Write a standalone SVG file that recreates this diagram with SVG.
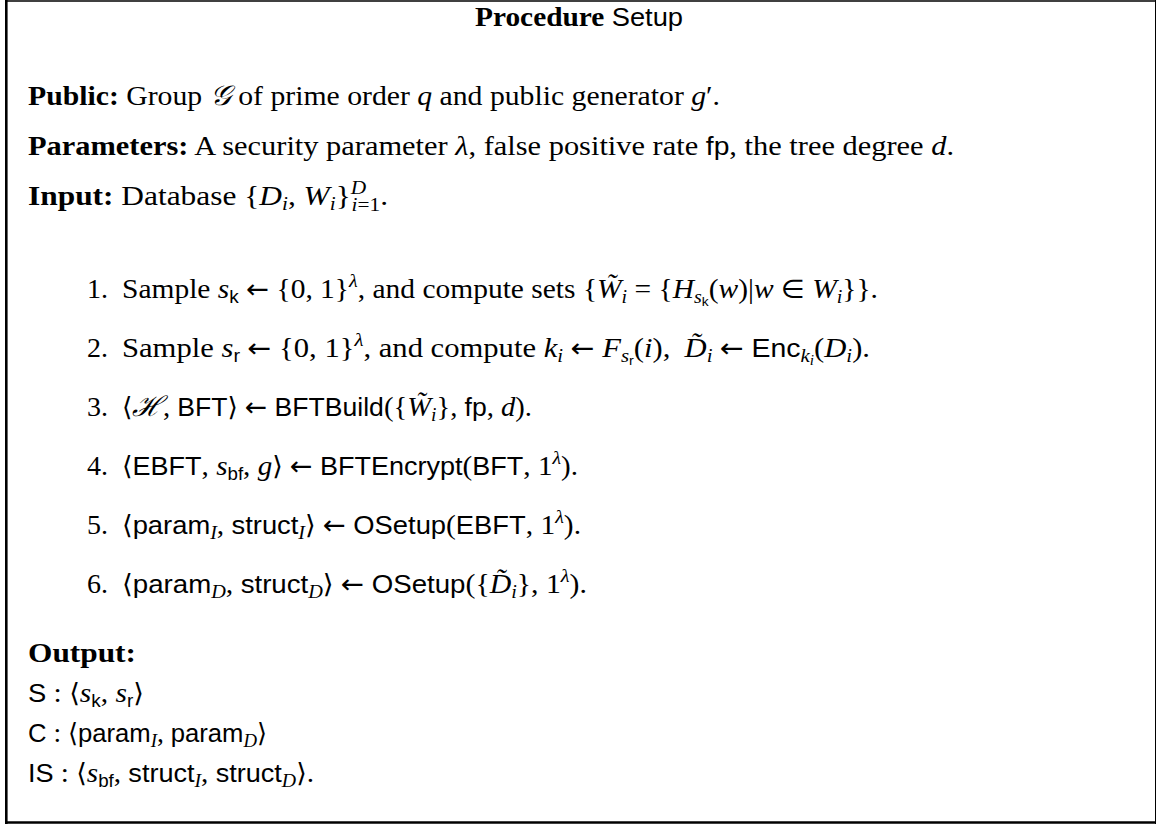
<svg xmlns="http://www.w3.org/2000/svg" width="1156" height="825" viewBox="0 0 1156 825">
<style>
text{font-family:'Liberation Serif','DejaVu Serif',serif;font-size:28px;fill:#000}
.b{font-weight:bold}
.i{font-style:italic}
.s{font-family:'Liberation Sans','DejaVu Sans',sans-serif;font-size:26px}
.sub{font-size:19px}
.s.sub{font-size:18px}
.sub2{font-size:14px}
.s.sub2{font-size:13px}
.sym{font-family:'DejaVu Sans',sans-serif;font-size:26px;font-style:normal}
.cal{font-family:'DejaVu Serif','Liberation Serif',serif;font-style:italic}
.frame{fill:none;stroke:#000}
</style>
<rect width="1156" height="825" fill="#fff"/>
<g id="frame">
<line class="frame" x1="6" y1="1" x2="1156" y2="1" stroke-width="1.5"/>
<line class="frame" x1="6.3" y1="0" x2="6.3" y2="824" stroke-width="2.6"/>
<line class="frame" x1="5" y1="822.5" x2="1156" y2="822.5" stroke-width="2.6"/>
<line class="frame" x1="1155.5" y1="0" x2="1155.5" y2="824" stroke-width="1"/>
</g>
<g id="title">
<text x="475" y="26" textLength="208" lengthAdjust="spacingAndGlyphs"><tspan class="b">Procedure</tspan> <tspan class="s">Setup</tspan></text>
</g>
<g id="header">
<text x="28" y="105" textLength="692" lengthAdjust="spacingAndGlyphs"><tspan class="b">Public:</tspan> Group <tspan class="cal">𝒢</tspan> of prime order <tspan class="i">q</tspan> and public generator <tspan class="i">g</tspan>′.</text>
<text x="28" y="155" textLength="926" lengthAdjust="spacingAndGlyphs"><tspan class="b">Parameters:</tspan> A security parameter <tspan class="i">λ</tspan>, false positive rate <tspan class="s">fp</tspan>, the tree degree <tspan class="i">d</tspan>.</text>
<text x="28" y="205" textLength="360" lengthAdjust="spacingAndGlyphs"><tspan class="b">Input:</tspan> Database {<tspan class="i">D</tspan><tspan class="i sub" dy="5">i</tspan><tspan dy="-5">, </tspan><tspan class="i">W</tspan><tspan class="i sub" dy="5">i</tspan><tspan dy="-5">}</tspan><tspan class="i sub" dy="-11">D</tspan><tspan class="sub" dx="-13" dy="17"><tspan class="i">i</tspan>=1</tspan><tspan dy="-6">.</tspan></text>
</g>
<g id="steps">
<g id="step1">
<text x="108" y="298" text-anchor="end">1.</text>
<text x="122" y="298" textLength="756" lengthAdjust="spacingAndGlyphs">Sample <tspan class="i">s</tspan><tspan class="s sub" dy="5">k</tspan><tspan dy="-5"> <tspan class="sym">←</tspan> {0, 1}</tspan><tspan class="i sub" dy="-11">λ</tspan><tspan dy="11">, and compute sets {</tspan><tspan class="i">W̃</tspan><tspan class="i sub" dy="5">i</tspan><tspan dy="-5"> = {</tspan><tspan class="i">H</tspan><tspan class="i sub" dy="5">s</tspan><tspan class="s sub2" dy="3">k</tspan><tspan dy="-8">(</tspan><tspan class="i">w</tspan>)|<tspan class="i">w</tspan> <tspan class="sym">∈</tspan> <tspan class="i">W</tspan><tspan class="i sub" dy="5">i</tspan><tspan dy="-5">}}.</tspan></text>
</g>
<g id="step2">
<text x="108" y="357" text-anchor="end">2.</text>
<text x="122" y="357" textLength="748" lengthAdjust="spacingAndGlyphs">Sample <tspan class="i">s</tspan><tspan class="s sub" dy="5">r</tspan><tspan dy="-5"> <tspan class="sym">←</tspan> {0, 1}</tspan><tspan class="i sub" dy="-11">λ</tspan><tspan dy="11">, and compute </tspan><tspan class="i">k</tspan><tspan class="i sub" dy="5">i</tspan><tspan dy="-5"> <tspan class="sym">←</tspan> </tspan><tspan class="i">F</tspan><tspan class="i sub" dy="5">s</tspan><tspan class="s sub2" dy="3">r</tspan><tspan dy="-8">(</tspan><tspan class="i">i</tspan>), <tspan class="i" dx="6">D̃</tspan><tspan class="i sub" dy="5">i</tspan><tspan dy="-5"> <tspan class="sym">←</tspan> </tspan><tspan class="s">Enc</tspan><tspan class="i sub" dy="5">k</tspan><tspan class="i sub2" dy="3">i</tspan><tspan dy="-8">(</tspan><tspan class="i">D</tspan><tspan class="i sub" dy="5">i</tspan><tspan dy="-5">).</tspan></text>
</g>
<g id="step3">
<text x="108" y="416" text-anchor="end">3.</text>
<text x="122" y="416" textLength="410" lengthAdjust="spacingAndGlyphs"><tspan class="sym">⟨</tspan><tspan class="cal">ℋ</tspan>, <tspan class="s">BFT</tspan><tspan class="sym">⟩</tspan> <tspan class="sym">←</tspan> <tspan class="s">BFTBuild</tspan>({<tspan class="i">W̃</tspan><tspan class="i sub" dy="5">i</tspan><tspan dy="-5">}, </tspan><tspan class="s">fp</tspan>, <tspan class="i">d</tspan>).</text>
</g>
<g id="step4">
<text x="108" y="475" text-anchor="end">4.</text>
<text x="122" y="475" textLength="456" lengthAdjust="spacingAndGlyphs"><tspan class="sym">⟨</tspan><tspan class="s">EBFT</tspan>, <tspan class="i">s</tspan><tspan class="s sub" dy="5">bf</tspan><tspan dy="-5">, </tspan><tspan class="i">g</tspan><tspan class="sym">⟩</tspan> <tspan class="sym">←</tspan> <tspan class="s">BFTEncrypt</tspan>(<tspan class="s">BFT</tspan>, 1<tspan class="i sub" dy="-11">λ</tspan><tspan dy="11">).</tspan></text>
</g>
<g id="step5">
<text x="108" y="534" text-anchor="end">5.</text>
<text x="122" y="534" textLength="459" lengthAdjust="spacingAndGlyphs"><tspan class="sym">⟨</tspan><tspan class="s">param</tspan><tspan class="i sub" dy="5">I</tspan><tspan dy="-5">, </tspan><tspan class="s">struct</tspan><tspan class="i sub" dy="5">I</tspan><tspan dy="-5" class="sym">⟩</tspan> <tspan class="sym">←</tspan> <tspan class="s">OSetup</tspan>(<tspan class="s">EBFT</tspan>, 1<tspan class="i sub" dy="-11">λ</tspan><tspan dy="11">).</tspan></text>
</g>
<g id="step6">
<text x="108" y="593" text-anchor="end">6.</text>
<text x="122" y="593" textLength="465" lengthAdjust="spacingAndGlyphs"><tspan class="sym">⟨</tspan><tspan class="s">param</tspan><tspan class="i sub" dy="5">D</tspan><tspan dy="-5">, </tspan><tspan class="s">struct</tspan><tspan class="i sub" dy="5">D</tspan><tspan dy="-5" class="sym">⟩</tspan> <tspan class="sym">←</tspan> <tspan class="s">OSetup</tspan>({<tspan class="i">D̃</tspan><tspan class="i sub" dy="5">i</tspan><tspan dy="-5">}, 1</tspan><tspan class="i sub" dy="-11">λ</tspan><tspan dy="11">).</tspan></text>
</g>
</g>
<g id="output">
<text x="28" y="662" class="b" textLength="108" lengthAdjust="spacingAndGlyphs">Output:</text>
<text x="28" y="702" textLength="116" lengthAdjust="spacingAndGlyphs"><tspan class="s">S</tspan> : <tspan class="sym">⟨</tspan><tspan class="i">s</tspan><tspan class="s sub" dy="5">k</tspan><tspan dy="-5">, </tspan><tspan class="i">s</tspan><tspan class="s sub" dy="5">r</tspan><tspan dy="-5" class="sym">⟩</tspan></text>
<text x="28" y="742" textLength="239" lengthAdjust="spacingAndGlyphs"><tspan class="s">C</tspan> : <tspan class="sym">⟨</tspan><tspan class="s">param</tspan><tspan class="i sub" dy="5">I</tspan><tspan dy="-5">, </tspan><tspan class="s">param</tspan><tspan class="i sub" dy="5">D</tspan><tspan dy="-5" class="sym">⟩</tspan></text>
<text x="28" y="782" textLength="286" lengthAdjust="spacingAndGlyphs"><tspan class="s">IS</tspan> : <tspan class="sym">⟨</tspan><tspan class="i">s</tspan><tspan class="s sub" dy="5">bf</tspan><tspan dy="-5">, </tspan><tspan class="s">struct</tspan><tspan class="i sub" dy="5">I</tspan><tspan dy="-5">, </tspan><tspan class="s">struct</tspan><tspan class="i sub" dy="5">D</tspan><tspan dy="-5" class="sym">⟩</tspan>.</text>
</g>
</svg>
